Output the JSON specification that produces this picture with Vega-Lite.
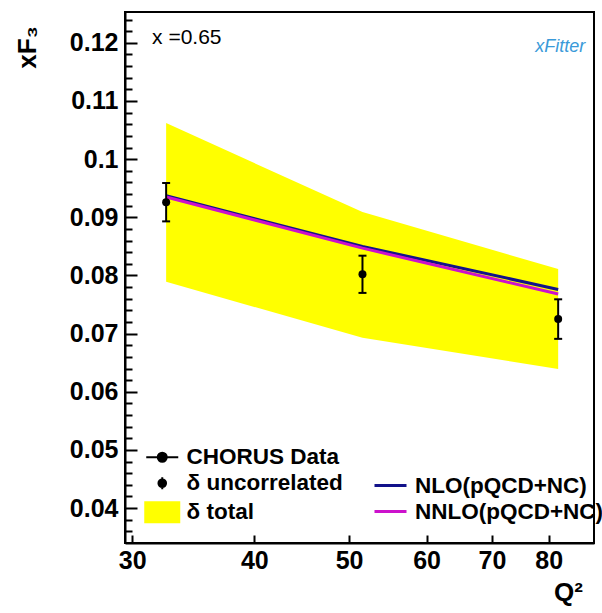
{
  "$schema": "https://vega.github.io/schema/vega-lite/v6.json",
  "width": 469,
  "height": 531,
  "autosize": "none",
  "padding": {"left": 125, "top": 12, "right": 8, "bottom": 70},
  "background": "white",
  "datasets": {
    "chorus": [
      {"Q": 32.5, "F3": 0.0926, "lo": 0.0893, "hi": 0.0959, "bandLo": 0.0789, "bandHi": 0.1062},
      {"Q": 51.6, "F3": 0.0802, "lo": 0.0770, "hi": 0.0834, "bandLo": 0.0693, "bandHi": 0.0909},
      {"Q": 81.8, "F3": 0.0725, "lo": 0.0691, "hi": 0.0759, "bandLo": 0.0639, "bandHi": 0.0811}
    ],
    "theory": [
      {"Q": 32.5, "model": "NLO(pQCD+NC)", "F3": 0.0937},
      {"Q": 51.6, "model": "NLO(pQCD+NC)", "F3": 0.0850},
      {"Q": 81.8, "model": "NLO(pQCD+NC)", "F3": 0.0776},
      {"Q": 32.5, "model": "NNLO(pQCD+NC)", "F3": 0.0935},
      {"Q": 51.6, "model": "NNLO(pQCD+NC)", "F3": 0.0847},
      {"Q": 81.8, "model": "NNLO(pQCD+NC)", "F3": 0.0768}
    ]
  },
  "resolve": {"axis": {"y": "independent"}},
  "layer": [
    {
      "data": {"name": "chorus"},
      "mark": {"type": "area", "opacity": 1},
      "encoding": {
        "x": {
          "field": "Q", "type": "quantitative",
          "scale": {"type": "log", "domain": [29.5, 89], "nice": false},
          "axis": {
            "values": [30, 40, 50, 60, 70, 80],
            "format": "~g",
            "tickSize": -8,
            "labelPadding": 13,
            "labelFlush": false,
            "labelOverlap": false,
            "title": "Q²",
            "titleX": 443,
            "titleY": 57,
            "titleAlign": "center",
            "titleBaseline": "alphabetic",
            "titleFontSize": 26,
            "titleFontWeight": "bold",
            "titleFont": "Liberation Sans",
            "titleColor": "black"
          }
        },
        "y": {
          "field": "bandLo", "type": "quantitative",
          "scale": {"domain": [0.034, 0.1253], "nice": false, "zero": false},
          "axis": {
            "orient": "left",
            "values": [0.04, 0.05, 0.06, 0.07, 0.08, 0.09, 0.1, 0.11, 0.12],
            "format": "~g",
            "tickSize": -12,
            "labelPadding": 19,
            "labelFlush": false,
            "labelOverlap": false,
            "title": "xF₃",
            "titleX": -98,
            "titleY": 35,
            "titleAngle": 270,
            "titleAlign": "center",
            "titleBaseline": "middle",
            "titleFontSize": 26,
            "titleFontWeight": "bold",
            "titleFont": "Liberation Sans",
            "titleColor": "black"
          }
        },
        "y2": {"field": "bandHi"},
        "fill": {
          "datum": "δ total",
          "type": "nominal",
          "scale": {"domain": ["CHORUS Data", "δ uncorrelated", "δ total"], "range": ["black", "black", "#ffff00"]},
          "legend": {
            "title": null,
            "orient": "none",
            "legendX": 26,
            "legendY": 434,
            "padding": 0,
            "symbolSize": 400,
            "rowPadding": 3,
            "labelOffset": 13,
            "labelFont": "Liberation Sans",
            "labelFontSize": 22.5,
            "labelFontWeight": "bold",
            "labelColor": "black",
            "labelLimit": 400,
            "symbolOpacity": 1,
            "encode": {
              "symbols": {
                "update": {
                  "shape": {"signal": "datum.value === 'δ total' ? 'M-1.7,-1H1.7V1H-1.7Z' : (datum.value === 'CHORUS Data' ? 'M-1.6,0H1.6M0.45,0A0.45,0.45 0 1,1 -0.45,0A0.45,0.45 0 1,1 0.45,0Z' : 'M0,-0.6V0.6M0.38,0A0.38,0.38 0 1,1 -0.38,0A0.38,0.38 0 1,1 0.38,0Z')"},
                  "stroke": {"signal": "datum.value === 'δ total' ? '#ffff00' : 'black'"},
                  "strokeWidth": {"value": 2},
                  "opacity": {"value": 1},
                  "fillOpacity": {"value": 1}
                }
              }
            }
          }
        }
      }
    },
    {
      "data": {"name": "theory"},
      "mark": {"type": "line", "strokeWidth": 3},
      "encoding": {
        "x": {"field": "Q", "type": "quantitative"},
        "y": {
          "field": "F3", "type": "quantitative",
          "axis": {
            "orient": "left",
            "values": [0.036,0.038,0.042,0.044,0.046,0.048,0.052,0.054,0.056,0.058,0.062,0.064,0.066,0.068,0.072,0.074,0.076,0.078,0.082,0.084,0.086,0.088,0.092,0.094,0.096,0.098,0.102,0.104,0.106,0.108,0.112,0.114,0.116,0.118,0.122,0.124],
            "labels": false,
            "domain": false,
            "tickSize": -7,
            "title": null
          }
        },
        "stroke": {
          "field": "model", "type": "nominal",
          "scale": {"domain": ["NLO(pQCD+NC)", "NNLO(pQCD+NC)"], "range": ["#12128a", "#cc11cc"]},
          "legend": {
            "title": null,
            "orient": "none",
            "legendX": 254,
            "legendY": 462,
            "padding": 0,
            "symbolType": "M-1.6,0H1.6",
            "symbolSize": 400,
            "symbolStrokeWidth": 3,
            "rowPadding": 3,
            "labelOffset": 13,
            "labelFont": "Liberation Sans",
            "labelFontSize": 22.5,
            "labelFontWeight": "bold",
            "labelColor": "black",
            "labelLimit": 400
          }
        }
      }
    },
    {
      "data": {"name": "chorus"},
      "mark": {"type": "rule", "color": "black", "strokeWidth": 2},
      "encoding": {
        "x": {"field": "Q", "type": "quantitative"},
        "y": {"field": "lo", "type": "quantitative", "axis": null},
        "y2": {"field": "hi"}
      }
    },
    {
      "data": {"name": "chorus"},
      "mark": {"type": "tick", "orient": "horizontal", "color": "black", "size": 8, "thickness": 2, "opacity": 1},
      "encoding": {
        "x": {"field": "Q", "type": "quantitative"},
        "y": {"field": "lo", "type": "quantitative", "axis": null}
      }
    },
    {
      "data": {"name": "chorus"},
      "mark": {"type": "tick", "orient": "horizontal", "color": "black", "size": 8, "thickness": 2, "opacity": 1},
      "encoding": {
        "x": {"field": "Q", "type": "quantitative"},
        "y": {"field": "hi", "type": "quantitative", "axis": null}
      }
    },
    {
      "data": {"name": "chorus"},
      "mark": {"type": "circle", "size": 64, "opacity": 1},
      "encoding": {
        "x": {"field": "Q", "type": "quantitative"},
        "y": {"field": "F3", "type": "quantitative", "axis": null},
        "fill": {"datum": "CHORUS Data", "type": "nominal"}
      }
    },
    {
      "data": {"values": [{}]},
      "mark": {"type": "text", "text": "x =0.65", "font": "Liberation Sans", "fontSize": 21, "color": "black", "align": "left", "baseline": "alphabetic"},
      "encoding": {
        "x": {"datum": 31.44, "type": "quantitative"},
        "y": {"datum": 0.1198, "type": "quantitative", "axis": null}
      }
    },
    {
      "data": {"values": [{}]},
      "mark": {"type": "text", "text": "xFitter", "font": "Liberation Sans", "fontSize": 18, "fontStyle": "italic", "color": "#3a9ad9", "align": "center", "baseline": "alphabetic"},
      "encoding": {
        "x": {"datum": 82.2, "type": "quantitative"},
        "y": {"datum": 0.1185, "type": "quantitative", "axis": null}
      }
    }
  ],
  "config": {
    "view": {"stroke": "black", "strokeWidth": 2},
    "axis": {
      "grid": false,
      "domainColor": "black",
      "domainWidth": 2,
      "tickColor": "black",
      "tickWidth": 2,
      "labelFont": "Liberation Sans",
      "labelFontSize": 25,
      "labelFontWeight": "bold",
      "labelColor": "black"
    }
  }
}
